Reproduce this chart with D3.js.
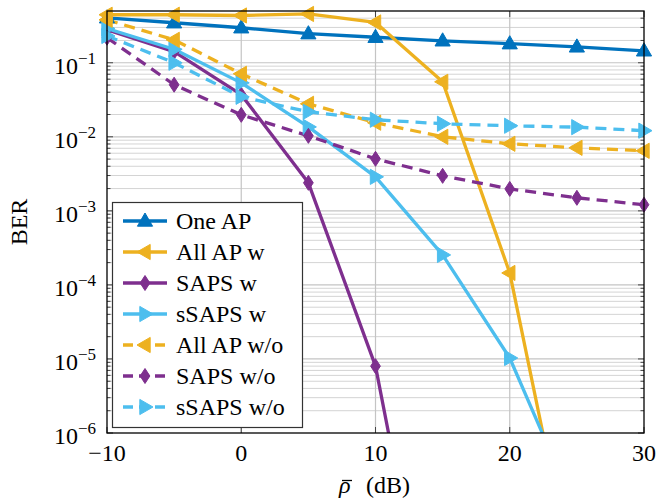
<!DOCTYPE html>
<html><head><meta charset="utf-8">
<script src="https://cdn.jsdelivr.net/npm/d3@7"></script>
<style>body{margin:0;background:#fff}svg{display:block}</style>
</head><body>
<svg id="c" width="659" height="502" font-family="'Liberation Serif', 'Times New Roman', 'DejaVu Serif', serif"></svg>
<script>
const xValues = [-10, -5, 0, 5, 10, 15, 20, 25, 30];
const oneAP      = [0.405, 0.347, 0.297, 0.247, 0.221, 0.198, 0.181, 0.164, 0.145];
const allAPw     = [0.445, 0.445, 0.435, 0.456, 0.35, 0.0553, 1.45e-4, 6e-9, null];
const sapsW      = [0.28, 0.141, 0.037, 2.39e-3, 8.0e-6, 1.8e-10, null, null, null];
const ssapsW     = [0.29, 0.152, 0.0535, 0.0136, 2.88e-3, 2.54e-4, 1.03e-5, 8.3e-8, null];
const allAPwo    = [0.38, 0.204, 0.0709, 0.0279, 0.0155, 0.0100, 0.00805, 0.0071, 0.00647];
const sapsWo     = [0.218, 0.0505, 0.0198, 0.0103, 5.04e-3, 2.97e-3, 1.98e-3, 1.50e-3, 1.21e-3];
const ssapsWo    = [0.23, 0.100, 0.0347, 0.0218, 0.0170, 0.0150, 0.0141, 0.0135, 0.0121];
const seriesNames = ["One AP", "All AP w", "SAPS w", "sSAPS w", "All AP w/o", "SAPS w/o", "sSAPS w/o"];
const xTicks = [-10, 0, 10, 20, 30];
const yTickExps = [-6, -5, -4, -3, -2, -1];

const series = [
  {name: seriesNames[0], v: oneAP,   color: "#0072BD", dash: null, mark: "up"},
  {name: seriesNames[1], v: allAPw,  color: "#EDB120", dash: null, mark: "left"},
  {name: seriesNames[2], v: sapsW,   color: "#7E2F8E", dash: null, mark: "diamond"},
  {name: seriesNames[3], v: ssapsW,  color: "#4DBEEE", dash: null, mark: "right"},
  {name: seriesNames[4], v: allAPwo, color: "#EDB120", dash: "11,7", mark: "left"},
  {name: seriesNames[5], v: sapsWo,  color: "#7E2F8E", dash: "11,7", mark: "diamond"},
  {name: seriesNames[6], v: ssapsWo, color: "#4DBEEE", dash: "11,7", mark: "right"}
];

const L = 107, R = 644, T = 11, B = 433;
const FS = 24;
const svg = d3.select("#c");
const x = d3.scaleLinear().domain([-10, 30]).range([L, R]);
const y = d3.scaleLog().domain([1e-6, 0.5]).range([B, T]);

// grid
const g = svg.append("g");
const minor = [];
for (let e = -6; e <= 0; e++) for (let m = 2; m <= 9; m++) { const v = m * Math.pow(10, e); if (v < 0.5) minor.push(v); }
g.selectAll(".mg").data(minor).enter().append("line")
  .attr("x1", L).attr("x2", R).attr("y1", d => y(d)).attr("y2", d => y(d))
  .attr("stroke", "#d4d4d4").attr("stroke-width", 1);
const majors = yTickExps.map(e => Math.pow(10, e));
g.selectAll(".Mg").data(majors.slice(1)).enter().append("line")
  .attr("x1", L).attr("x2", R).attr("y1", d => y(d)).attr("y2", d => y(d))
  .attr("stroke", "#c4c4c4").attr("stroke-width", 1.2);
g.selectAll(".vg").data(xTicks.slice(1, -1)).enter().append("line")
  .attr("y1", T).attr("y2", B).attr("x1", d => x(d)).attr("x2", d => x(d))
  .attr("stroke", "#c4c4c4").attr("stroke-width", 1.2);

// ticks (inside, both sides)
const tk = svg.append("g").attr("stroke", "#444").attr("stroke-width", 1);
minor.forEach(v => {
  tk.append("line").attr("x1", L).attr("x2", L + 3.5).attr("y1", y(v)).attr("y2", y(v));
  tk.append("line").attr("x1", R).attr("x2", R - 3.5).attr("y1", y(v)).attr("y2", y(v));
});
majors.forEach(v => {
  tk.append("line").attr("x1", L).attr("x2", L + 6).attr("y1", y(v)).attr("y2", y(v));
  tk.append("line").attr("x1", R).attr("x2", R - 6).attr("y1", y(v)).attr("y2", y(v));
});
xTicks.forEach(v => {
  tk.append("line").attr("y1", B).attr("y2", B - 6).attr("x1", x(v)).attr("x2", x(v));
  tk.append("line").attr("y1", T).attr("y2", T + 6).attr("x1", x(v)).attr("x2", x(v));
});

// clip
svg.append("clipPath").attr("id", "clip").append("rect").attr("x", L).attr("y", T).attr("width", R - L).attr("height", B - T);

// marker shapes
function markPath(type, s) {
  const r = s;
  if (type === "up") return `M0,${-r}L${r * 0.95},${r * 0.65}L${-r * 0.95},${r * 0.65}Z`;
  if (type === "left") return `M${-r},0L${r * 0.65},${-r * 0.95}L${r * 0.65},${r * 0.95}Z`;
  if (type === "right") return `M${r},0L${-r * 0.65},${-r * 0.95}L${-r * 0.65},${r * 0.95}Z`;
  return `M0,${-r}L${r * 0.65},0L0,${r}L${-r * 0.65},0Z`;
}

const line = d3.line().defined(d => d.v != null).x(d => x(d.x)).y(d => y(d.v));
const plot = svg.append("g");
series.forEach(s => {
  const pts = xValues.map((xv, i) => ({x: xv, v: s.v[i]}));
  plot.append("path").datum(pts).attr("d", line).attr("clip-path", "url(#clip)")
    .attr("fill", "none").attr("stroke", s.color).attr("stroke-width", 3.3)
    .attr("stroke-dasharray", s.dash).attr("stroke-linejoin", "round");
});
series.forEach(s => {
  const pts = xValues.map((xv, i) => ({x: xv, v: s.v[i]})).filter(d => d.v != null && d.v >= 1e-6);
  plot.selectAll(null).data(pts).enter().append("path")
    .attr("d", markPath(s.mark, s.mark === "diamond" ? 7.5 : 8))
    .attr("transform", d => `translate(${x(d.x)},${y(d.v)})`)
    .attr("fill", s.color).attr("stroke", s.color).attr("stroke-width", 1);
});

// axes box
svg.append("rect").attr("x", L).attr("y", T).attr("width", R - L).attr("height", B - T)
  .attr("fill", "none").attr("stroke", "#000").attr("stroke-width", 1.3);

// tick labels
svg.selectAll(".xl").data(xTicks).enter().append("text")
  .attr("x", d => x(d) - (d < 0 ? 0 : 0)).attr("y", 461).attr("text-anchor", "middle").attr("font-size", FS)
  .text(d => d < 0 ? "\u2212" + Math.abs(d) : d);
yTickExps.forEach(e => {
  const t = svg.append("text").attr("x", 96).attr("y", y(Math.pow(10, e)) + 11)
    .attr("text-anchor", "end").attr("font-size", FS);
  t.append("tspan").text("10");
  t.append("tspan").attr("dy", -10).attr("font-size", 17).text("\u2212" + Math.abs(e));
});

// axis labels
svg.append("text").attr("transform", "translate(27,222) rotate(-90)").attr("text-anchor", "middle")
  .attr("font-size", FS).text("BER");
svg.append("text").attr("x", 339).attr("y", 493).attr("font-size", FS).attr("font-style", "italic").text("\u03C1");
svg.append("text").attr("x", 366).attr("y", 493).attr("font-size", FS).text("(dB)");
svg.append("line").attr("x1", 342).attr("x2", 352).attr("y1", 480.5).attr("y2", 480.5)
  .attr("stroke", "#000").attr("stroke-width", 1.3);

// legend
const lg = svg.append("g");
lg.append("rect").attr("x", 112.5).attr("y", 202.5).attr("width", 190).attr("height", 225)
  .attr("fill", "#fff").attr("stroke", "#333").attr("stroke-width", 1.2);
series.forEach((s, i) => {
  const cy = 221 + i * 31;
  lg.append("line").attr("x1", 123).attr("x2", 167).attr("y1", cy).attr("y2", cy)
    .attr("stroke", s.color).attr("stroke-width", 3.3).attr("stroke-dasharray", s.dash ? "10,6" : null);
  lg.append("path").attr("d", markPath(s.mark, s.mark === "diamond" ? 7.5 : 8))
    .attr("transform", `translate(145,${cy})`).attr("fill", s.color).attr("stroke", s.color);
  lg.append("text").attr("x", 176).attr("y", cy + 8).attr("font-size", FS).text(s.name);
});
</script>
</body></html>
